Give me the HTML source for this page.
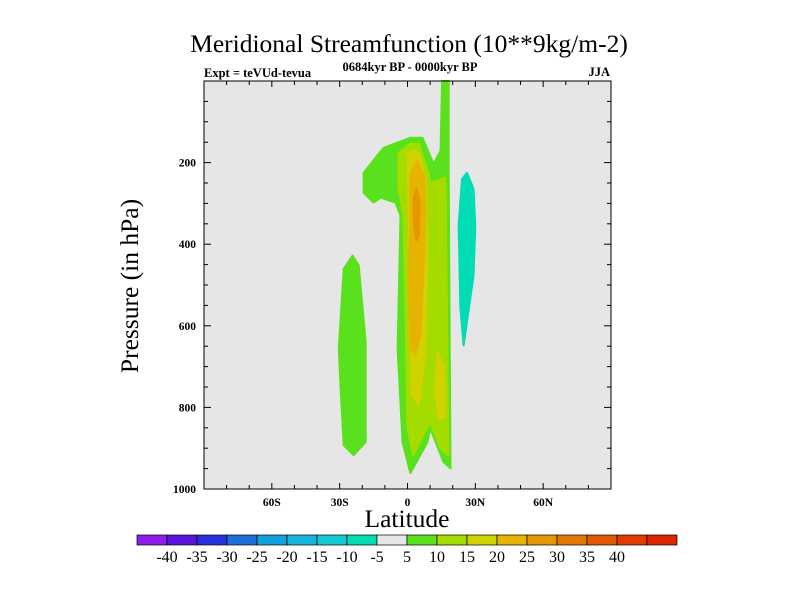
<!DOCTYPE html>
<html><head><meta charset="utf-8"><style>
body{margin:0;background:#fff;width:800px;height:600px;overflow:hidden}
svg{display:block;font-family:"Liberation Serif",serif}
</style></head><body>
<svg id="c" width="800" height="600">
<rect id="plot" x="204" y="81" width="407" height="408" fill="#e6e6e6"/>
<g id="contours"></g>
<rect x="204" y="81" width="407" height="408" fill="none" stroke="#000" stroke-width="1"/>
<g id="axes"></g>
<text x="409" y="52" font-size="25.5" text-anchor="middle">Meridional Streamfunction (10**9kg/m-2)</text>
<text x="204" y="77" font-size="12.5" font-weight="bold">Expt = teVUd-tevua</text>
<text x="410" y="71" font-size="12.5" font-weight="bold" text-anchor="middle">0684kyr BP - 0000kyr BP</text>
<text x="610" y="76" font-size="12.5" font-weight="bold" text-anchor="end">JJA</text>
<text x="407" y="527" font-size="25.5" text-anchor="middle">Latitude</text>
<text transform="translate(138,286) rotate(-90)" font-size="25.5" text-anchor="middle">Pressure (in hPa)</text>
<g id="cbar"></g>
</svg>
<script>
const levels=[10,15,20,25];
const xTicks=[-60,-30,0,30,60];
const xTickLabels=["60S","30S","0","30N","60N"];
const yTicks=[200,400,600,800,1000];
const cbLabels=[-40,-35,-30,-25,-20,-15,-10,-5,5,10,15,20,25,30,35,40];
const cbColors=["#8c1ee6","#5a14dc","#2832dc","#1e6edc","#14a0dc","#14b4dc","#14c8d2","#00dcb4","#e6e6e6","#5ae11e","#a5dc00","#d2d200","#e6b400","#e69600","#e07800","#e05a00","#e03c00","#dc2800"];
// contour polygons: [lat, pressure]
const mainLat=[15.3,18.2,18.2,19.0,15.9,10.1,8.8,1.3,-2.2,-4.4,-3.1,-5.3,-11.9,-15.0,-19.4,-19.4,-10.6,1.3,6.6,11.5,14.6];
const mainP=[0,0,232,949,934,851,885,961,885,655,330,298,286,298,274,225,164,139,139,203,171];
const shLat=[-30.4,-28.2,-24.3,-21.6,-18.5,-18.5,-23.8,-28.2,-29.5];
const shP=[655,460,428,452,641,885,917,893,763];
const negLat=[24.1,26.3,29.2,30.0,29.2,24.8,23.4,22.6];
const negP=[240,225,264,355,477,648,557,355];
const l10Lat=[-4.0,1.3,4.9,9.3,10.1,16.8,17.6,18.1,14.6,10.1,7.1,2.6,0,-0.9,-1.8,-4.0];
const l10P=[176,154,154,225,249,237,655,917,900,836,868,917,851,557,330,264];
const l15Lat=[-0.1,3.5,5.7,7.9,8.7,7.9,5.0,2.1,1.3,0.6];
const l15P=[178,171,183,249,428,665,795,770,557,330];
const l15bLat=[13.1,16.0,16.8,13.8,12.4];
const l15bP=[665,697,826,826,763];
const l20Lat=[1.3,4.3,7.2,7.9,7.2,5.7,3.5,1.3,0.6,1.3];
const l20P=[225,196,232,313,445,623,672,655,477,330];
const l25Lat=[2.8,4.0,5.4,5.0,4.0,2.8];
const l25P=[289,262,298,379,391,347];

const X0=204,X1=611,Y0=81,Y1=489;
const sx=l=>X0+(l+90)/180*(X1-X0);
const sy=p=>Y0+p/1000*(Y1-Y0);
const NS="http://www.w3.org/2000/svg";
function poly(lat,p,fill,name){
  const e=document.createElementNS(NS,"polygon");
  e.setAttribute("points",lat.map((l,i)=>sx(l).toFixed(1)+","+sy(p[i]).toFixed(1)).join(" "));
  e.setAttribute("fill",fill);
  e.setAttribute("stroke",fill);
  e.setAttribute("stroke-linejoin","round");
  e.setAttribute("stroke-width","2");
  
  
  document.getElementById("contours").appendChild(e);
}
poly(mainLat,mainP,"#5ae11e","contour-5-main");
poly(shLat,shP,"#5ae11e","contour-5-south");
poly(negLat,negP,"#00dcb4","contour-neg5");
poly(l10Lat,l10P,"#a5dc00","contour-10");
poly(l15Lat,l15P,"#d2d200","contour-15");
poly(l15bLat,l15bP,"#d2d200","contour-15-lobe");
poly(l20Lat,l20P,"#e6b400","contour-20");
poly(l25Lat,l25P,"#e69600","contour-25");

const ax=document.getElementById("axes");
function line(x1,y1,x2,y2,name){
  const e=document.createElementNS(NS,"line");
  e.setAttribute("x1",x1);e.setAttribute("y1",y1);e.setAttribute("x2",x2);e.setAttribute("y2",y2);
  e.setAttribute("stroke","#000");
  
  
  ax.appendChild(e);
}
function txt(x,y,s,anchor,name,size,bold){
  const e=document.createElementNS(NS,"text");
  e.setAttribute("x",x);e.setAttribute("y",y);e.setAttribute("text-anchor",anchor);
  e.setAttribute("font-size",size||12);e.textContent=s;
  if(bold)e.setAttribute("font-weight","bold");
  
  
  return e;
}
for(let l=-80;l<=80;l+=10){
  const major=l%30===0, len=major?6:4, x=sx(l);
  line(x,Y0,x,Y0+len,"x-tick-top");
  line(x,Y1,x,Y1-len,"x-tick-bottom");
}
for(let p=50;p<1000;p+=50){
  const major=p%200===0, len=major?7:4, y=sy(p);
  line(X0,y,X0+len,y,"y-tick-left");
  line(X1,y,X1-len,y,"y-tick-right");
}
xTicks.forEach((l,i)=>ax.appendChild(txt(sx(l),506,xTickLabels[i],"middle","x-tick-label",11.5,true)));
yTicks.forEach(p=>ax.appendChild(txt(196,sy(p)+4,String(p),"end","y-tick-label",11.5,true)));

const cb=document.getElementById("cbar");
const CX=137,CW=30,CY=535,CH=10;
cbColors.forEach((c,i)=>{
  const r=document.createElementNS(NS,"rect");
  r.setAttribute("x",CX+i*CW);r.setAttribute("y",CY);r.setAttribute("width",CW);r.setAttribute("height",CH);
  r.setAttribute("fill",c);r.setAttribute("stroke","#000");r.setAttribute("stroke-width","0.7");
  
  
  cb.appendChild(r);
});
cbLabels.forEach((v,i)=>cb.appendChild(txt(CX+(i+1)*CW,562,String(v),"middle","colorbar-label",16)));
</script>
</body></html>
